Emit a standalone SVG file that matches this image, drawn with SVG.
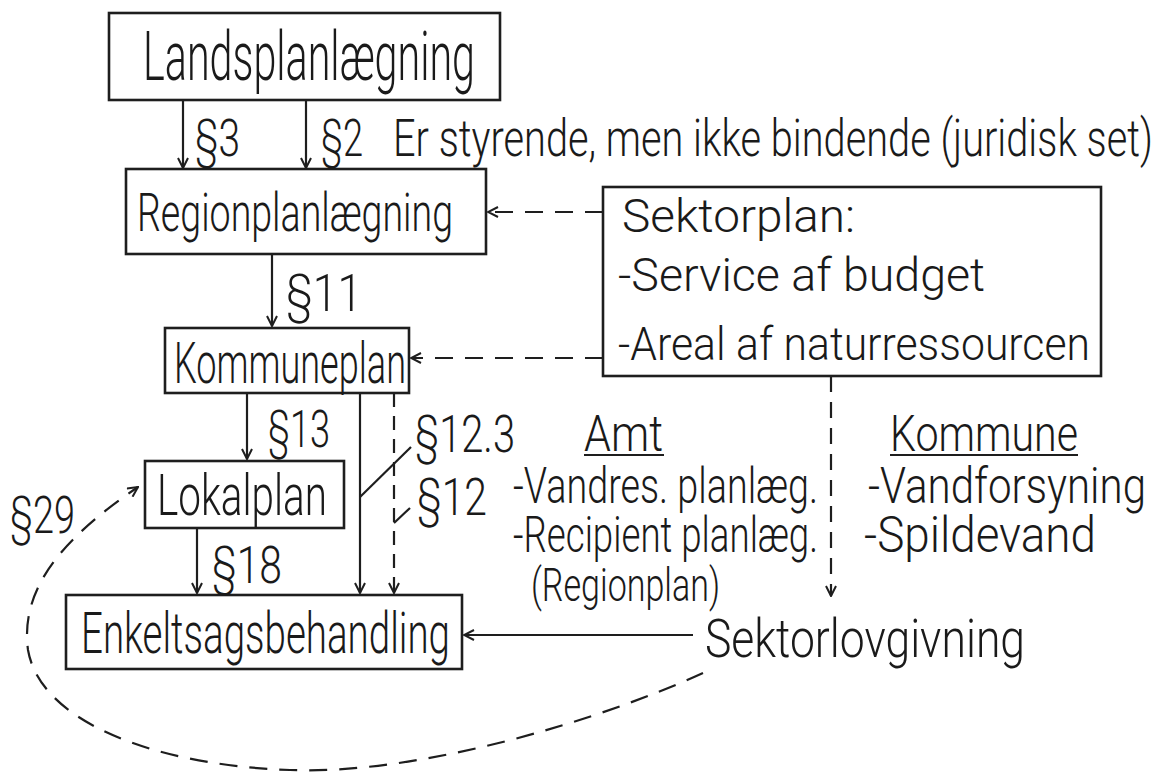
<svg xmlns="http://www.w3.org/2000/svg" width="1172" height="774" viewBox="0 0 1172 774">
  <style>
    .box { fill: #fff; stroke: #1e1e1e; stroke-width: 2.6; }
    .ln { fill: none; stroke: #1e1e1e; stroke-width: 2.2; }
    .dash { fill: none; stroke: #1e1e1e; stroke-width: 2.2; stroke-dasharray: 18 12; }
    .arr { marker-end: url(#open); }
    text { font-family: Roboto, "Open Sans", "Liberation Sans", sans-serif; font-weight: 300; fill: #1a1a1a; }
    .big { font-size: 68px; }
    .mid { font-size: 54px; }
    .box2 { font-size: 58px; }
    .sm { font-size: 46px; }
    .lst { font-size: 50px; }
    .par { font-size: 52px; }
  </style>
  <defs>
    <marker id="open" viewBox="0 0 12 12" refX="11" refY="6" markerWidth="12" markerHeight="12" markerUnits="userSpaceOnUse" orient="auto">
      <path d="M1,1 L11,6 L1,11" fill="none" stroke="#1e1e1e" stroke-width="2"/>
    </marker>
  </defs>
  <rect width="1172" height="774" fill="#fff"/>

  <!-- connectors -->
  <g id="connectors">
    <line class="ln arr" x1="183" y1="100" x2="183" y2="168"/>
    <line class="ln arr" x1="306" y1="100" x2="306" y2="168"/>
    <line class="ln arr" x1="272" y1="254" x2="272" y2="326"/>
    <line class="dash arr" x1="603" y1="212" x2="488" y2="212"/>
    <line class="dash arr" x1="603" y1="358" x2="411" y2="358"/>
    <line class="ln arr" x1="247" y1="393" x2="247" y2="459"/>
    <line class="ln arr" x1="197" y1="528" x2="197" y2="593"/>
    <line class="ln arr" x1="360" y1="393" x2="360" y2="593"/>
    <line class="dash arr" x1="394" y1="393" x2="394" y2="593" style="stroke-dasharray: 14 9"/>
    <line class="ln" x1="360" y1="497" x2="411" y2="447"/>
    <line class="ln" x1="394" y1="523" x2="410" y2="508"/>
    <line class="dash arr" x1="831" y1="376" x2="831" y2="596" style="stroke-dasharray: 16 10"/>
    <line class="ln arr" x1="693" y1="635" x2="464" y2="635"/>
    <path class="dash arr" d="M703,673 C600,720 420,775 290,770 C150,765 40,720 28,650 C20,590 60,540 138,487"/>
  </g>

  <g id="landsplan">
    <rect class="box" x="109" y="13" width="391" height="87"/>
    <text class="big" x="143" y="80" textLength="332" lengthAdjust="spacingAndGlyphs">Landsplanlægning</text>
  </g>

  <g id="regionplan">
    <rect class="box" x="126" y="169" width="360" height="85"/>
    <text class="mid" x="137" y="231" textLength="316" lengthAdjust="spacingAndGlyphs">Regionplanlægning</text>
  </g>

  <g id="sektorplan">
    <rect class="box" x="603" y="187" width="498" height="189"/>
    <text class="sm" x="622" y="232" textLength="233" lengthAdjust="spacingAndGlyphs">Sektorplan:</text>
    <text class="sm" x="618" y="291" textLength="367" lengthAdjust="spacingAndGlyphs">-Service af budget</text>
    <text class="sm" x="618" y="360" textLength="472" lengthAdjust="spacingAndGlyphs">-Areal af naturressourcen</text>
  </g>

  <g id="kommuneplan">
    <rect class="box" x="165" y="328" width="244" height="65"/>
    <text class="box2" x="174" y="383" textLength="232" lengthAdjust="spacingAndGlyphs">Kommuneplan</text>
  </g>

  <g id="lokalplan">
    <rect class="box" x="145" y="461" width="199" height="67"/>
    <text class="box2" x="157" y="515" textLength="170" lengthAdjust="spacingAndGlyphs">Lokalplan</text>
  </g>

  <g id="enkeltsag">
    <rect class="box" x="66" y="595" width="396" height="74"/>
    <text class="box2" x="81" y="653" textLength="369" lengthAdjust="spacingAndGlyphs">Enkeltsagsbehandling</text>
  </g>

  <g id="sektorlov">
    <text class="mid" x="705" y="657" textLength="320" lengthAdjust="spacingAndGlyphs">Sektorlovgivning</text>
  </g>

  <g id="paragraphs">
    <text class="par" x="195" y="156" textLength="45" lengthAdjust="spacingAndGlyphs">§3</text>
    <text class="par" x="321" y="156" textLength="42" lengthAdjust="spacingAndGlyphs">§2</text>
    <text class="par" x="393" y="156" textLength="760" lengthAdjust="spacingAndGlyphs">Er styrende, men ikke bindende (juridisk set)</text>
    <text class="par" x="286" y="311" textLength="76" lengthAdjust="spacingAndGlyphs">§11</text>
    <text class="par" x="268" y="447" textLength="62" lengthAdjust="spacingAndGlyphs">§13</text>
    <text class="par" x="415" y="452" textLength="100" lengthAdjust="spacingAndGlyphs">§12.3</text>
    <text class="par" x="417" y="515" textLength="70" lengthAdjust="spacingAndGlyphs">§12</text>
    <text class="par" x="212" y="583" textLength="70" lengthAdjust="spacingAndGlyphs">§18</text>
    <text class="par" x="10" y="533" textLength="65" lengthAdjust="spacingAndGlyphs">§29</text>
  </g>

  <g id="amt">
    <text class="lst" x="584" y="451" textLength="79" lengthAdjust="spacingAndGlyphs">Amt</text>
    <line class="ln" x1="584" y1="455" x2="664" y2="455"/>
    <text class="lst" x="513" y="503" textLength="305" lengthAdjust="spacingAndGlyphs">-Vandres. planlæg.</text>
    <text class="lst" x="513" y="552" textLength="305" lengthAdjust="spacingAndGlyphs">-Recipient planlæg.</text>
    <text class="sm" x="531" y="601" textLength="189" lengthAdjust="spacingAndGlyphs">(Regionplan)</text>
  </g>

  <g id="kommune">
    <text class="lst" x="890" y="451" textLength="188" lengthAdjust="spacingAndGlyphs">Kommune</text>
    <line class="ln" x1="890" y1="455" x2="1078" y2="455"/>
    <text class="lst" x="868" y="503" textLength="278" lengthAdjust="spacingAndGlyphs">-Vandforsyning</text>
    <text class="lst" x="864" y="552" textLength="232" lengthAdjust="spacingAndGlyphs">-Spildevand</text>
  </g>
</svg>
